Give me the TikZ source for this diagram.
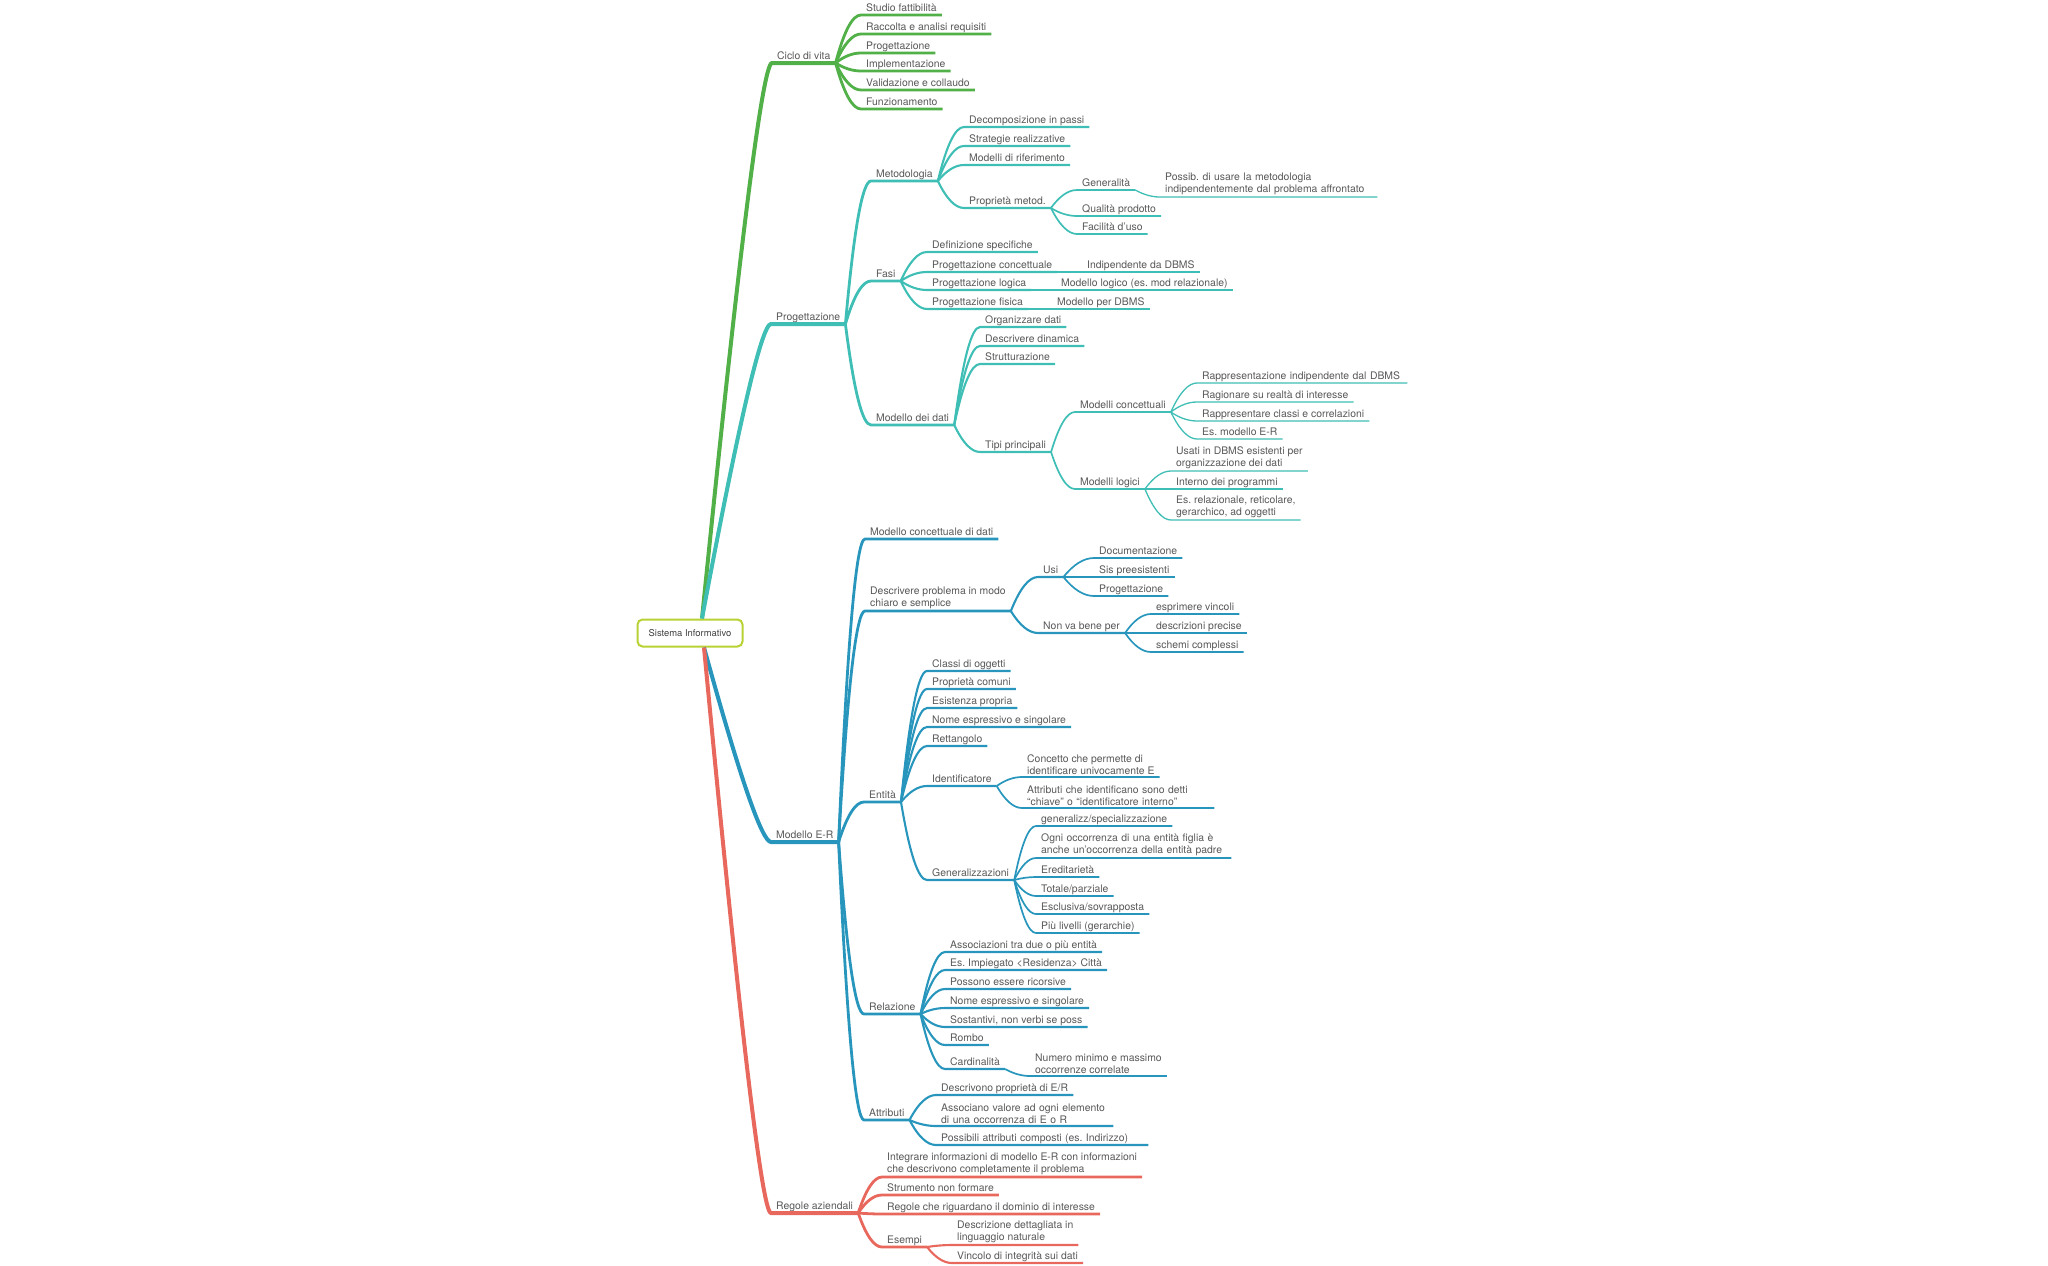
\documentclass[tikz,border=0pt]{standalone}
\usepackage{fontspec}
\setmainfont{TeX Gyre Heros}
\usepackage{tikz}
\usetikzlibrary{calc}

\definecolor{cicloc}{RGB}{82,176,72}
\definecolor{progc}{RGB}{62,190,180}
\definecolor{erc}{RGB}{40,150,188}
\definecolor{regc}{RGB}{232,104,94}
\definecolor{rootc}{RGB}{184,210,52}
\definecolor{txtc}{RGB}{88,88,88}

\begin{document}
\frenchspacing
\begin{tikzpicture}[
        x=1pt, y=-1pt,
        every node/.style={font=\fontsize{10.4}{12.5}\selectfont, text=txtc, inner xsep=5pt, inner ysep=2pt, anchor=south west, align=left},
        one/.style={text height=7.8pt, text depth=1pt},
        two/.style={align=left},
        rootbox/.style={draw=rootc, line width=2pt, rounded corners=5pt, fill=white, anchor=center,
            minimum width=105pt, minimum height=27pt, text=black!75, font=\fontsize{9.4}{11}\selectfont},
        curvy/.style={to path={let \p1=(\tikztostart), \p2=(\tikztotarget) in
            .. controls ({\x1+2*#1*(\x2-\x1)/3},{\y1+2*(\y2-\y1)/3}) and ({\x2+2*(#1-1)*(\x2-\x1)/3},\y2) .. (\tikztotarget)}},
        curvy/.default=0.5,
        l1/.style={line width=4pt},
        l2/.style={line width=2.8pt},
        l3/.style={line width=2.1pt},
        l4/.style={line width=1.7pt},
        l5/.style={line width=1.3pt}
    ]
    \useasboundingbox (0,0) rectangle (2048,1266);

    % Nodes
    \node[rootbox] (root) at (690,633) {Sistema Informativo};
    \coordinate (rt) at ([xshift=12pt]root.north);
    \coordinate (rb) at ([xshift=14pt]root.south);

    \node[one] (ciclo) at (772,63) {Ciclo di vita};
    \node[one] (prog) at (771,324) {Progettazione};
    \node[one] (moder) at (771,842) {Modello E-R};
    \node[one] (regole) at (771,1213) {Regole aziendali};

    % ciclo di vita
    \node[one] (studio) at (861,15) {Studio fattibilità};
    \node[one] (raccolta) at (861,34) {Raccolta e analisi requisiti};
    \node[one] (cprog) at (861,53) {Progettazione};
    \node[one] (impl) at (861,71) {Implementazione};
    \node[one] (valid) at (861,90) {Validazione e collaudo};
    \node[one] (funz) at (861,109) {Funzionamento};

    % progettazione
    \node[one] (metod) at (871,181) {Metodologia};
    \node[one] (fasi) at (871,281) {Fasi};
    \node[one] (mdati) at (871,425) {Modello dei dati};

    \node[one] (decomp) at (964,127) {Decomposizione in passi};
    \node[one] (strat) at (964,146) {Strategie realizzative};
    \node[one] (mrif) at (964,165) {Modelli di riferimento};
    \node[one] (propm) at (964,208) {Proprietà metod.};
    \node[one] (gener) at (1077,190) {Generalità};
    \node[one] (qual) at (1077,216) {Qualità prodotto};
    \node[one] (facil) at (1077,234) {Facilità d'uso};
    \node[two, text width=207pt] (possib) at (1160,197) {Possib. di usare la metodologia\\indipendentemente dal problema affrontato};

    \node[one] (defsp) at (927,252) {Definizione specifiche};
    \node[one] (pconc) at (927,272) {Progettazione concettuale};
    \node[one] (plog) at (927,290) {Progettazione logica};
    \node[one] (pfis) at (927,309) {Progettazione fisica};
    \node[one] (indip) at (1082,272) {Indipendente da DBMS};
    \node[one] (mlog) at (1056,290) {Modello logico (es. mod relazionale)};
    \node[one] (mdbms) at (1052,309) {Modello per DBMS};

    \node[one] (orgd) at (980,327) {Organizzare dati};
    \node[one] (descd) at (980,346) {Descrivere dinamica};
    \node[one] (strut) at (980,364) {Strutturazione};
    \node[one] (tipi) at (980,452) {Tipi principali};
    \node[one] (mconc) at (1075,412) {Modelli concettuali};
    \node[one] (mlogi) at (1075,489) {Modelli logici};
    \node[one, text width=200pt] (rappi) at (1197,383) {Rappresentazione indipendente dal DBMS};
    \node[one] (ragion) at (1197,402) {Ragionare su realtà di interesse};
    \node[one] (rappc) at (1197,421) {Rappresentare classi e correlazioni};
    \node[one] (esmod) at (1197,439) {Es. modello E-R};
    \node[two] (usati) at (1171,471) {Usati in DBMS esistenti per\\organizzazione dei dati};
    \node[one] (interno) at (1171,489) {Interno dei programmi};
    \node[two] (esrel) at (1171,520) {Es. relazionale, reticolare,\\gerarchico, ad oggetti};

    % modello E-R
    \node[one] (mcd) at (865,539) {Modello concettuale di dati};
    \node[two] (descr) at (865,611) {Descrivere problema in modo\\chiaro e semplice};
    \node[one] (entita) at (864,802) {Entità};
    \node[one] (relaz) at (864,1014) {Relazione};
    \node[one] (attr) at (864,1120) {Attributi};

    \node[one] (usi) at (1038,577) {Usi};
    \node[one] (nonva) at (1038,633) {Non va bene per};
    \node[one] (docum) at (1094,558) {Documentazione};
    \node[one] (sispre) at (1094,577) {Sis preesistenti};
    \node[one] (uprog) at (1094,596) {Progettazione};
    \node[one] (espr) at (1151,614) {esprimere vincoli};
    \node[one] (descp) at (1151,633) {descrizioni precise};
    \node[one] (schemi) at (1151,652) {schemi complessi};

    \node[one] (classi) at (927,671) {Classi di oggetti};
    \node[one] (propc) at (927,689) {Proprietà comuni};
    \node[one] (esist) at (927,708) {Esistenza propria};
    \node[one] (enome) at (927,727) {Nome espressivo e singolare};
    \node[one] (rett) at (927,746) {Rettangolo};
    \node[one] (ident) at (927,786) {Identificatore};
    \node[one] (genz) at (927,880) {Generalizzazioni};
    \node[two] (conc) at (1022,777) {Concetto che permette di\\identificare univocamente E};
    \node[two, text width=182pt] (attrid) at (1022,808) {Attributi che identificano sono detti\\“chiave” o “identificatore interno”};
    \node[one] (gspec) at (1036,826) {generalizz/specializzazione};
    \node[two, text width=185pt] (ogni) at (1036,858) {Ogni occorrenza di una entità figlia è\\anche un’occorrenza della entità padre};
    \node[one] (ered) at (1036,877) {Ereditarietà};
    \node[one] (totp) at (1036,896) {Totale/parziale};
    \node[one] (escl) at (1036,914) {Esclusiva/sovrapposta};
    \node[one] (piul) at (1036,933) {Più livelli (gerarchie)};

    \node[one] (assoc) at (945,952) {Associazioni tra due o più entità};
    \node[one] (esimp) at (945,970) {Es. Impiegato \textless Residenza\textgreater{} Città};
    \node[one] (ricors) at (945,989) {Possono essere ricorsive};
    \node[one] (rnome) at (945,1008) {Nome espressivo e singolare};
    \node[one] (sost) at (945,1027) {Sostantivi, non verbi se poss};
    \node[one] (rombo) at (945,1045) {Rombo};
    \node[one] (card) at (945,1069) {Cardinalità};
    \node[two] (nummin) at (1030,1076) {Numero minimo e massimo\\occorrenze correlate};

    \node[one] (descpr) at (936,1095) {Descrivono proprietà di E/R};
    \node[two, text width=167pt] (assval) at (936,1126) {Associano valore ad ogni elemento\\di una occorrenza di E o R};
    \node[one, text width=202pt] (poss) at (936,1145) {Possibili attributi composti (es. Indirizzo)};

    % regole aziendali
    \node[two] (integr) at (882,1177) {Integrare informazioni di modello E-R con informazioni\\che descrivono completamente il problema};
    \node[one] (strum) at (882,1195) {Strumento non formare};
    \node[one] (rdom) at (882,1214) {Regole che riguardano il dominio di interesse};
    \node[one] (esempi) at (882,1247) {Esempi};
    \node[two] (descdet) at (952,1245) {Descrizione dettagliata in\\linguaggio naturale};
    \node[one] (vincolo) at (952,1263) {Vincolo di integrità sui dati};

    % Edges
    \draw[l1, draw=cicloc] (rt) to[curvy=0.8] (ciclo.south west) -- (ciclo.south east);
    \draw[l1, draw=progc] (rt) to[curvy=0.8] (prog.south west) -- (prog.south east);
    \draw[l1, draw=erc] (rb) to[curvy=0.8] (moder.south west) -- (moder.south east);
    \draw[l1, draw=regc] (rb) to[curvy=0.8] (regole.south west) -- (regole.south east);

    \foreach \c in {studio,raccolta,cprog,impl,valid,funz}
        \draw[l2, draw=cicloc] (ciclo.south east) to[curvy] (\c.south west) -- (\c.south east);

    \foreach \c in {metod,fasi,mdati}
        \draw[l2, draw=progc] (prog.south east) to[curvy] (\c.south west) -- (\c.south east);
    \foreach \c in {decomp,strat,mrif,propm}
        \draw[l3, draw=progc] (metod.south east) to[curvy] (\c.south west) -- (\c.south east);
    \foreach \c in {gener,qual,facil}
        \draw[l4, draw=progc] (propm.south east) to[curvy] (\c.south west) -- (\c.south east);
    \draw[l5, draw=progc] (gener.south east) to[curvy] (possib.south west) -- (possib.south east);
    \foreach \c in {defsp,pconc,plog,pfis}
        \draw[l3, draw=progc] (fasi.south east) to[curvy] (\c.south west) -- (\c.south east);
    \draw[l4, draw=progc] (pconc.south east) -- (indip.south west) -- (indip.south east);
    \draw[l4, draw=progc] (plog.south east) -- (mlog.south west) -- (mlog.south east);
    \draw[l4, draw=progc] (pfis.south east) -- (mdbms.south west) -- (mdbms.south east);
    \foreach \c in {orgd,descd,strut,tipi}
        \draw[l3, draw=progc] (mdati.south east) to[curvy] (\c.south west) -- (\c.south east);
    \foreach \c in {mconc,mlogi}
        \draw[l4, draw=progc] (tipi.south east) to[curvy] (\c.south west) -- (\c.south east);
    \foreach \c in {rappi,ragion,rappc,esmod}
        \draw[l5, draw=progc] (mconc.south east) to[curvy] (\c.south west) -- (\c.south east);
    \foreach \c in {usati,interno,esrel}
        \draw[l5, draw=progc] (mlogi.south east) to[curvy] (\c.south west) -- (\c.south east);

    \foreach \c in {mcd,descr,entita,relaz,attr}
        \draw[l2, draw=erc] (moder.south east) to[curvy] (\c.south west) -- (\c.south east);
    \foreach \c in {usi,nonva}
        \draw[l3, draw=erc] (descr.south east) to[curvy] (\c.south west) -- (\c.south east);
    \foreach \c in {docum,sispre,uprog}
        \draw[l4, draw=erc] (usi.south east) to[curvy] (\c.south west) -- (\c.south east);
    \foreach \c in {espr,descp,schemi}
        \draw[l4, draw=erc] (nonva.south east) to[curvy] (\c.south west) -- (\c.south east);
    \foreach \c in {classi,propc,esist,enome,rett,ident,genz}
        \draw[l3, draw=erc] (entita.south east) to[curvy] (\c.south west) -- (\c.south east);
    \foreach \c in {conc,attrid}
        \draw[l4, draw=erc] (ident.south east) to[curvy] (\c.south west) -- (\c.south east);
    \foreach \c in {gspec,ogni,ered,totp,escl,piul}
        \draw[l4, draw=erc] (genz.south east) to[curvy] (\c.south west) -- (\c.south east);
    \foreach \c in {assoc,esimp,ricors,rnome,sost,rombo,card}
        \draw[l3, draw=erc] (relaz.south east) to[curvy] (\c.south west) -- (\c.south east);
    \draw[l4, draw=erc] (card.south east) to[curvy] (nummin.south west) -- (nummin.south east);
    \foreach \c in {descpr,assval,poss}
        \draw[l3, draw=erc] (attr.south east) to[curvy] (\c.south west) -- (\c.south east);

    \foreach \c in {integr,strum,rdom,esempi}
        \draw[l2, draw=regc] (regole.south east) to[curvy] (\c.south west) -- (\c.south east);
    \foreach \c in {descdet,vincolo}
        \draw[l3, draw=regc] (esempi.south east) to[curvy] (\c.south west) -- (\c.south east);

\end{tikzpicture}
\end{document}
